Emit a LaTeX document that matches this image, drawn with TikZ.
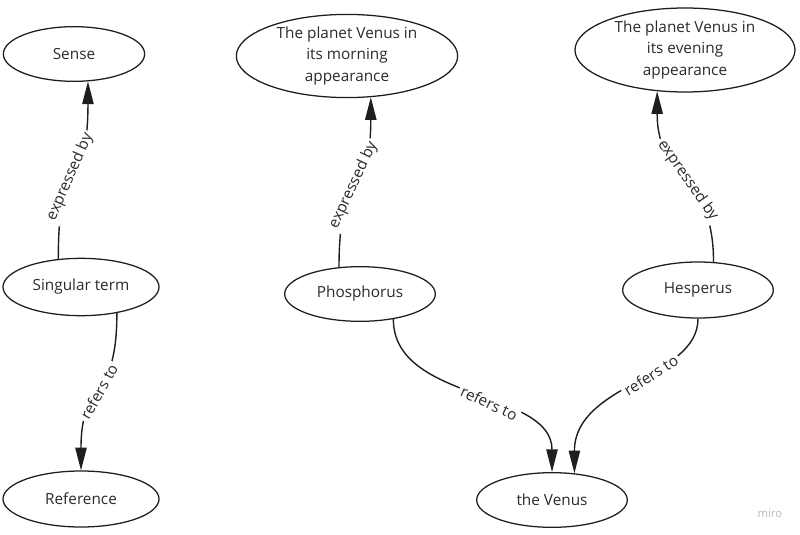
\documentclass[tikz,border=0pt]{standalone}
\usepackage{fontspec}
\setmainfont{Open Sans}
\usetikzlibrary{shapes, arrows.meta}
\definecolor{inkgray}{HTML}{2B2B2B}
\definecolor{linegray}{HTML}{1E1E1E}
\definecolor{markgray}{HTML}{BBBBBB}

\begin{document}
\begin{tikzpicture}[x=0.75pt, y=-0.75pt,
				   every node/.style={font=\fontsize{11.5}{16.3}\selectfont, text=inkgray},
				   concept/.style={ellipse, draw=linegray, line width=0.95pt, inner sep=0pt, align=center},
				   link/.style={draw=linegray, line width=1.05pt, -{Triangle[length=17pt, width=8.5pt]}},
				   linklabel/.style={sloped, fill=white, inner sep=2pt}]
\fill[white] (0,0) rectangle (800,535);
\useasboundingbox (0,0) rectangle (800,535);

% concepts
\node[concept, minimum width=106pt, minimum height=41pt] (sense) at (74,54) {Sense};
\node[concept, minimum width=117pt, minimum height=43pt] (singular) at (81,287) {Singular term};
\node[concept, minimum width=117pt, minimum height=42pt] (reference) at (81,499) {Reference};
\node[concept, minimum width=166pt, minimum height=62pt] (morning) at (347,56) {The planet Venus in\\its morning\\appearance};
\node[concept, minimum width=165pt, minimum height=63pt] (evening) at (685,50) {The planet Venus in\\its evening\\appearance};
\node[concept, minimum width=113pt, minimum height=41pt] (phosphorus) at (360,294) {Phosphorus};
\node[concept, minimum width=113pt, minimum height=42pt] (hesperus) at (698,290) {Hesperus};
\node[concept, minimum width=113pt, minimum height=41pt] (venus) at (552,500) {the Venus};

% links
\draw[link] (singular.129) .. controls +(0,-114) and +(0,114) .. (sense.-63)
	node[linklabel, pos=0.43] {expressed by};
\draw[link] (phosphorus.128) .. controls +(0,-103) and +(0,103) .. (morning.-60)
	node[linklabel, pos=0.47] {expressed by};
\draw[link] (hesperus.61) .. controls +(0,-91) and +(0,91) .. (evening.-124)
	node[linklabel, pos=0.47] {expressed by};
\draw[link] (singular.-36) .. controls +(0,93) and +(0,-93) .. (reference.north)
	node[linklabel, pos=0.5] {refers to};
\draw[link] (phosphorus.-37) .. controls +(0,83) and +(0,-83) .. (venus.north)
	node[linklabel, pos=0.57] {refers to};
\draw[link] (hesperus.south) .. controls +(0,60) and +(0,-90) .. (venus.50)
	node[linklabel, pos=0.42] {refers to};

\node[font=\fontsize{8.5}{10}\selectfont, text=markgray] (miro) at (770,513) {miro};
\end{tikzpicture}
\end{document}
